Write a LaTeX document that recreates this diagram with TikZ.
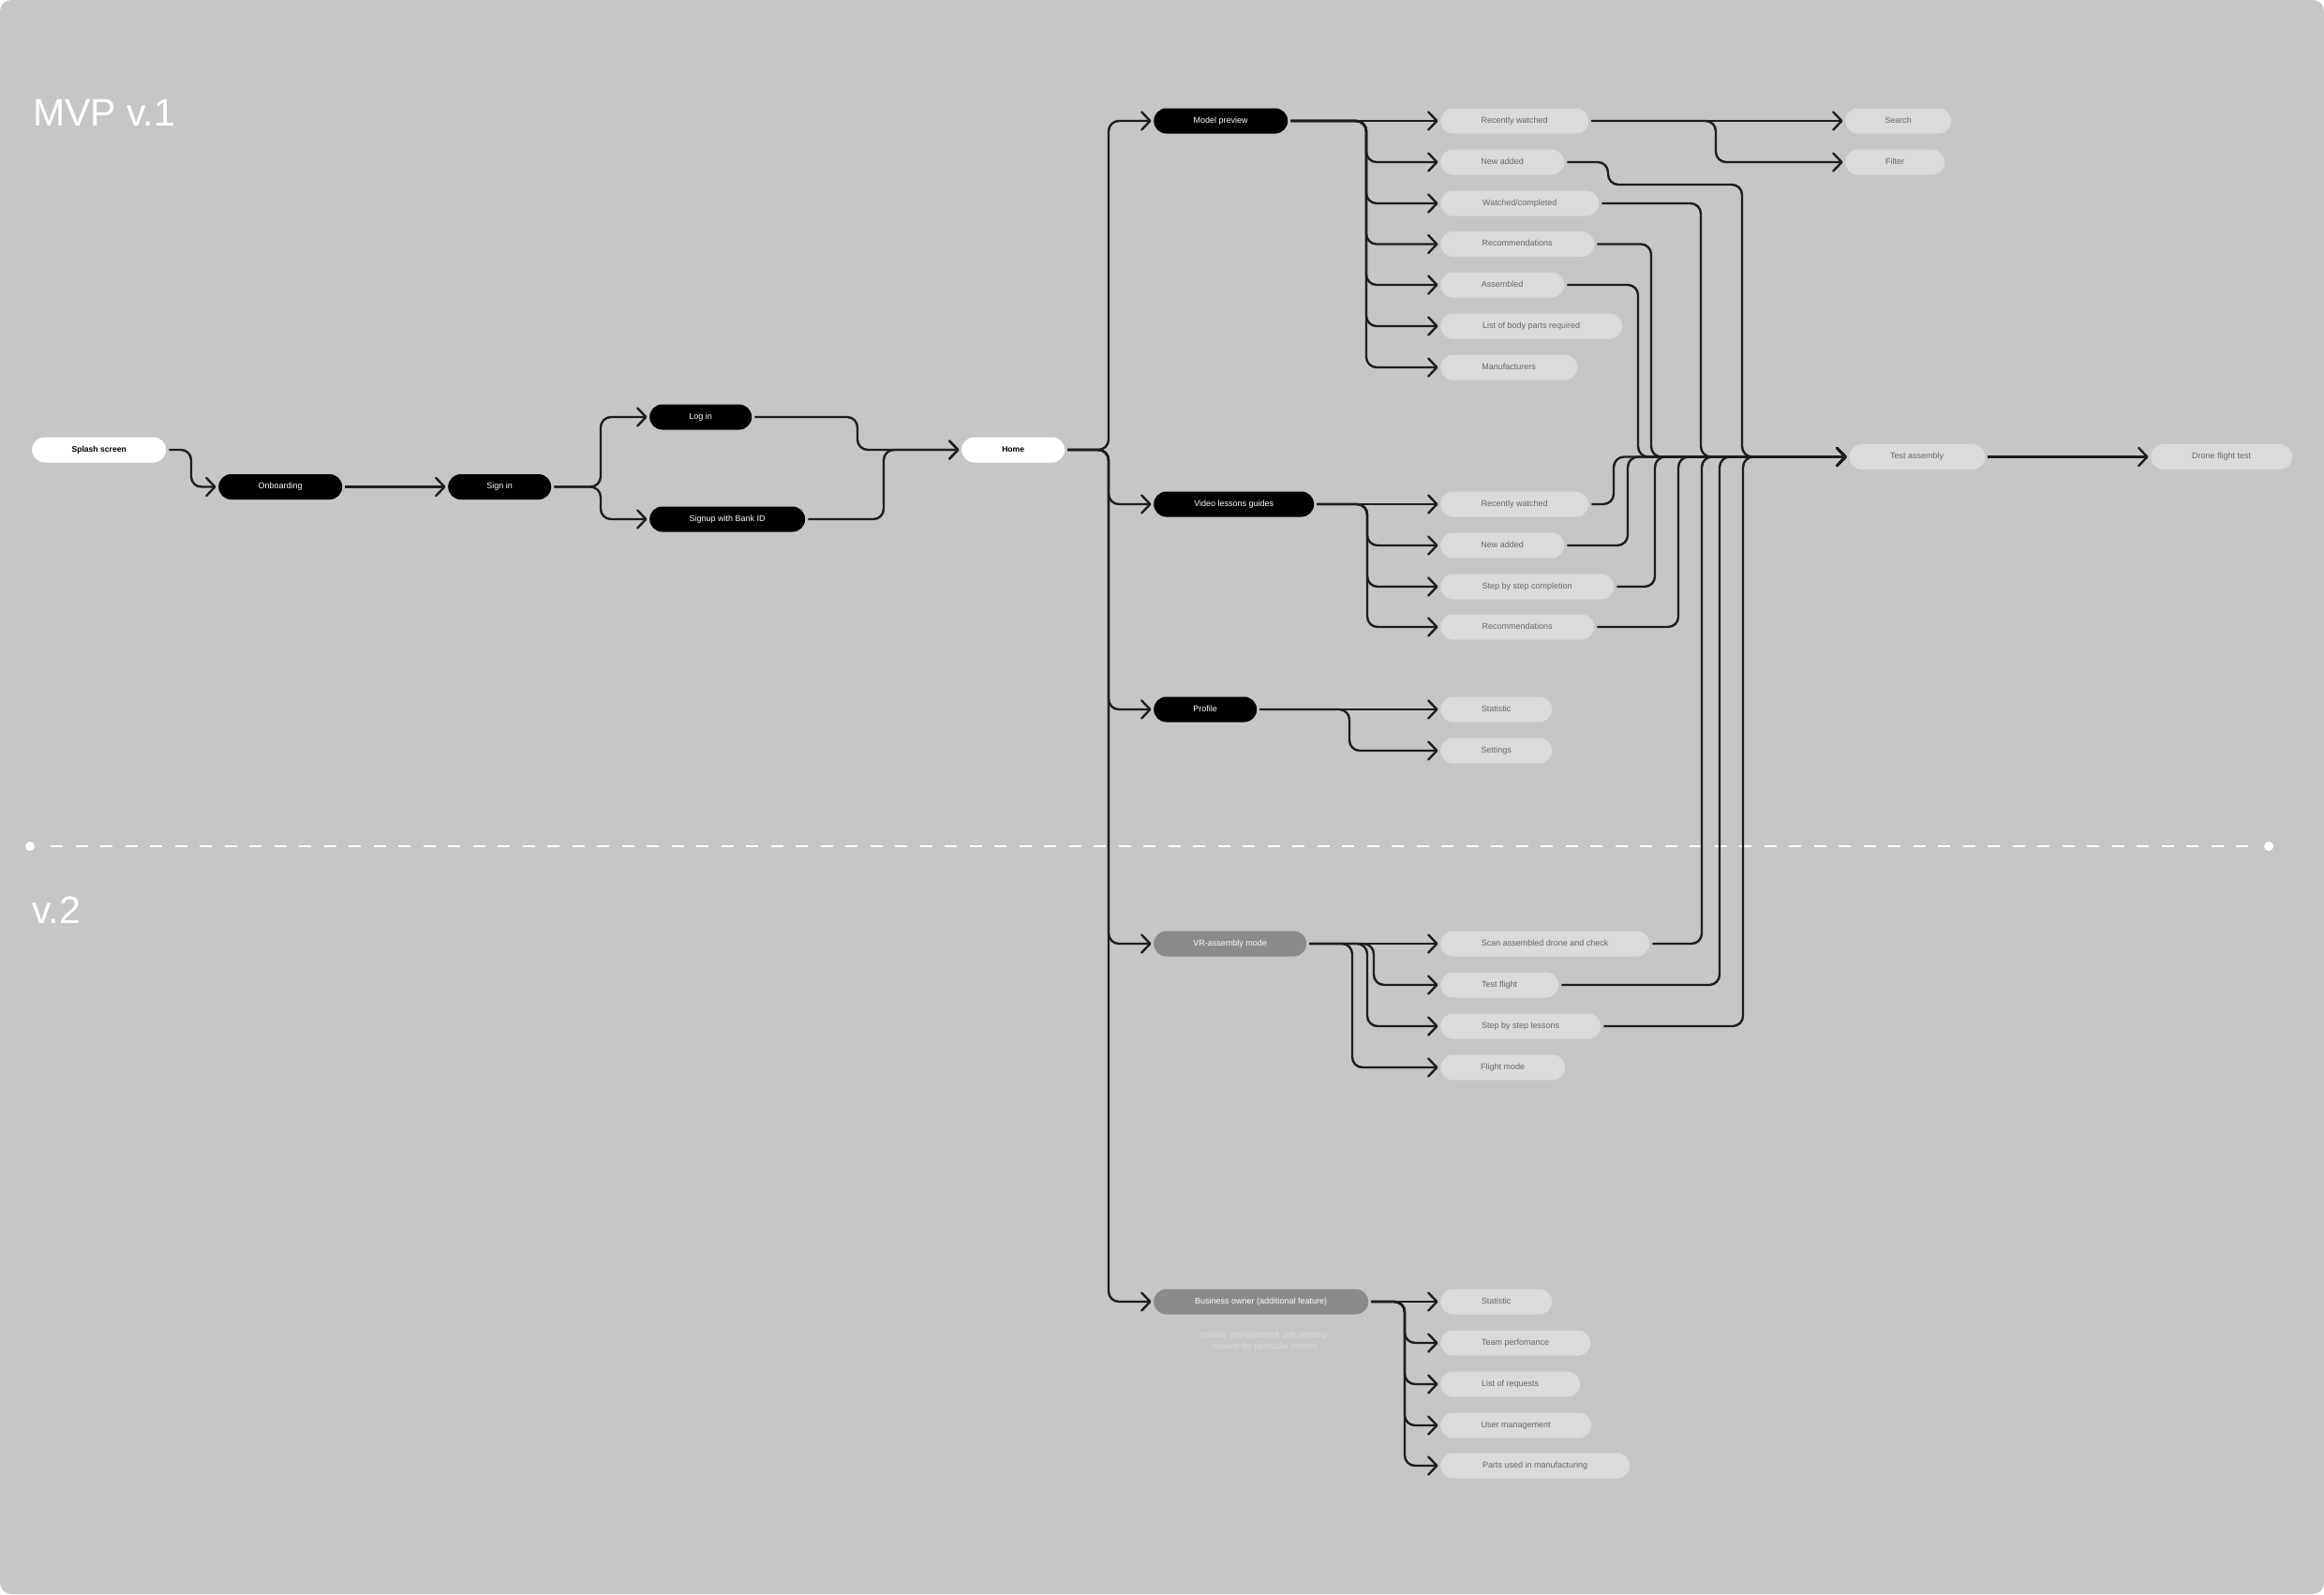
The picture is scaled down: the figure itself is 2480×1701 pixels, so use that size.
\documentclass[tikz,border=0pt]{standalone}
\usepackage{fontspec}
\setmainfont{Liberation Sans}
\usetikzlibrary{arrows.meta}
\definecolor{bgc}{HTML}{C6C6C6}
\definecolor{lnc}{HTML}{1E1E1E}
\definecolor{lightn}{HTML}{DBDBDB}
\definecolor{lightt}{HTML}{666666}
\definecolor{midn}{HTML}{8A8A8A}
\definecolor{subt}{HTML}{DCDCDC}
\begin{document}
\begin{tikzpicture}[x=1pt,y=-1pt,
  pill/.style={rectangle, rounded corners=13.5pt, minimum height=27pt, inner xsep=0pt, inner ysep=0pt,
    text height=6.6pt, text depth=1.9pt, font=\fontsize{9}{10}\selectfont, anchor=west},
  blk/.style={pill, fill=black, text=white},
  wht/.style={pill, fill=white, text=black, font=\fontsize{8.6}{10}\selectfont\bfseries},
  mid/.style={pill, fill=midn, text=white},
  lgt/.style={pill, fill=lightn, text=lightt},
  conn/.style={draw=lnc, line width=2.4pt, rounded corners=11pt, shorten <=3pt},
  arr/.style={conn, -{Straight Barb[length=9pt,width=19pt,round]}, shorten >=2.5pt},
  title/.style={anchor=base west, inner sep=0pt, text=white, font=\fontsize{41}{42}\selectfont},
]
\useasboundingbox (0,0) rectangle (2480,1701);
\fill[white] (0,0) rectangle (2480,1701);
\fill[bgc, rounded corners=12pt] (0,0) rectangle (2480,1701);

% titles
\node[title] (t1) at (35,134) {MVP v.1};
\node[title] (t2) at (34,985) {v.2};

% separator
\coordinate (dl) at (32,903);
\coordinate (dr) at (2421,903);
\draw[white, line width=2pt, dash pattern=on 13pt off 13.5pt, shorten <=22pt, shorten >=10pt] (dl) -- (dr);
\fill[white] (dl) circle (5pt);
\fill[white] (dr) circle (5pt);

% main flow
\node[wht, minimum width=143pt] (splash) at (34,480) {Splash screen};
\node[blk, minimum width=132pt] (onb) at (233,519.5) {Onboarding};
\node[blk, minimum width=110pt] (sgn) at (478,519.5) {Sign in};
\node[blk, minimum width=109pt] (login) at (693,445) {Log in};
\node[blk, minimum width=166pt] (signup) at (693,554) {Signup with Bank ID};
\node[wht, minimum width=110pt] (home) at (1026,480) {Home};

\node[blk, minimum width=143pt] (mp) at (1231,129) {Model preview};
\node[blk, minimum width=171pt] (vl) at (1231,538) {Video lessons guides};
\node[blk, minimum width=110pt] (pr) at (1231,757) {Profile};
\node[mid, minimum width=163pt] (vr) at (1231,1007) {VR-assembly mode};
\node[mid, minimum width=229pt] (bo) at (1231,1389) {Business owner (additional feature)};
\node[align=center, text=subt, font=\fontsize{9}{11.5}\selectfont, inner sep=0pt] (bosub) at (1349,1431)
  {military management unit sending\\request for particular drones};

% model preview children
\node[lgt, minimum width=158pt] (mp1) at (1537,129) {Recently watched};
\node[lgt, minimum width=132pt] (mp2) at (1537,173) {New added};
\node[lgt, minimum width=169pt] (mp3) at (1537,217) {Watched/completed};
\node[lgt, minimum width=164pt] (mp4) at (1537,260.5) {Recommendations};
\node[lgt, minimum width=132pt] (mp5) at (1537,304) {Assembled};
\node[lgt, minimum width=194pt] (mp6) at (1537,348) {List of body parts required};
\node[lgt, minimum width=146pt] (mp7) at (1537,392) {Manufacturers};

\node[lgt, minimum width=113pt] (srch) at (1969,129) {Search};
\node[lgt, minimum width=106pt] (filt) at (1969,173) {Filter};

% video children
\node[lgt, minimum width=158pt] (vl1) at (1537,538) {Recently watched};
\node[lgt, minimum width=132pt] (vl2) at (1537,582) {New added};
\node[lgt, minimum width=185pt] (vl3) at (1537,626) {Step by step completion};
\node[lgt, minimum width=164pt] (vl4) at (1537,669) {Recommendations};

% profile children
\node[lgt, minimum width=119pt] (pr1) at (1537,757) {Statistic};
\node[lgt, minimum width=119pt] (pr2) at (1537,801) {Settings};

% VR children
\node[lgt, minimum width=223pt] (vr1) at (1537,1007) {Scan assembled drone and check};
\node[lgt, minimum width=126pt] (vr2) at (1537,1051) {Test flight};
\node[lgt, minimum width=171pt] (vr3) at (1537,1095) {Step by step lessons};
\node[lgt, minimum width=133pt] (vr4) at (1537,1139) {Flight mode};

% business owner children
\node[lgt, minimum width=119pt] (bo1) at (1537,1389) {Statistic};
\node[lgt, minimum width=160pt] (bo2) at (1537,1433) {Team perfomance};
\node[lgt, minimum width=149pt] (bo3) at (1537,1477) {List of requests};
\node[lgt, minimum width=161pt] (bo4) at (1537,1521) {User management};
\node[lgt, minimum width=202pt] (bo5) at (1537,1564) {Parts used in manufacturing};

% test nodes
\node[lgt, minimum width=145pt] (ta) at (1973,487.5) {Test assembly};
\node[lgt, minimum width=151pt] (dft) at (2295,487.5) {Drone flight test};

% ---- connectors ----
\draw[arr] (splash.east) -| (204,519.5) -- (onb.west);
\draw[arr] (onb.east) -- (sgn.west);
\draw[arr] (sgn.east) -| (641,445) -- (login.west);
\draw[arr] (sgn.east) -| (641,554) -- (signup.west);
\draw[arr] (login.east) -| (915,480) -- (home.west);
\draw[arr] (signup.east) -| (943,480) -- (home.west);

% bus from home
\draw[arr] (home.east) -| (1183,129) -- (mp.west);
\draw[arr] (home.east) -| (1183,538) -- (vl.west);
\draw[arr] (home.east) -| (1183,757) -- (pr.west);
\draw[arr] (home.east) -| (1183,1007) -- (vr.west);
\draw[arr] (home.east) -| (1183,1389) -- (bo.west);

% model preview branches
\draw[arr] (mp.east) -- (mp1.west);
\draw[arr] (mp.east) -| (1458,173) -- (mp2.west);
\draw[arr] (mp.east) -| (1458,217) -- (mp3.west);
\draw[arr] (mp.east) -| (1458,260.5) -- (mp4.west);
\draw[arr] (mp.east) -| (1458,304) -- (mp5.west);
\draw[arr] (mp.east) -| (1458,348) -- (mp6.west);
\draw[arr] (mp.east) -| (1458,392) -- (mp7.west);

\draw[arr] (mp1.east) -- (srch.west);
\draw[arr] (mp1.east) -| (1831,173) -- (filt.west);

% video branches
\draw[arr] (vl.east) -- (vl1.west);
\draw[arr] (vl.east) -| (1459,582) -- (vl2.west);
\draw[arr] (vl.east) -| (1459,626) -- (vl3.west);
\draw[arr] (vl.east) -| (1459,669) -- (vl4.west);

% profile branches
\draw[arr] (pr.east) -- (pr1.west);
\draw[arr] (pr.east) -| (1440,801) -- (pr2.west);

% VR branches
\draw[arr] (vr.east) -- (vr1.west);
\draw[arr] (vr.east) -| (1466,1051) -- (vr2.west);
\draw[arr] (vr.east) -| (1459,1095) -- (vr3.west);
\draw[arr] (vr.east) -| (1443,1139) -- (vr4.west);

% business owner branches
\draw[arr] (bo.east) -- (bo1.west);
\draw[arr] (bo.east) -| (1499,1433) -- (bo2.west);
\draw[arr] (bo.east) -| (1499,1477) -- (bo3.west);
\draw[arr] (bo.east) -| (1499,1521) -- (bo4.west);
\draw[arr] (bo.east) -| (1499,1564) -- (bo5.west);

% merges into test assembly
\draw[arr] (mp2.east) -| (1716,197) -| (1859,487.5) -- (ta.west);
\draw[arr] (mp3.east) -| (1815,487.5) -- (ta.west);
\draw[arr] (mp4.east) -| (1762,487.5) -- (ta.west);
\draw[arr] (mp5.east) -| (1748,487.5) -- (ta.west);
\draw[arr] (vl1.east) -| (1722,487.5) -- (ta.west);
\draw[arr] (vl2.east) -| (1737,487.5) -- (ta.west);
\draw[arr] (vl3.east) -| (1766,487.5) -- (ta.west);
\draw[arr] (vl4.east) -| (1791,487.5) -- (ta.west);
\draw[arr] (vr1.east) -| (1816,487.5) -- (ta.west);
\draw[arr] (vr2.east) -| (1835,487.5) -- (ta.west);
\draw[arr] (vr3.east) -| (1860,487.5) -- (ta.west);

\draw[arr] (ta.east) -- (dft.west);
\end{tikzpicture}
\end{document}
